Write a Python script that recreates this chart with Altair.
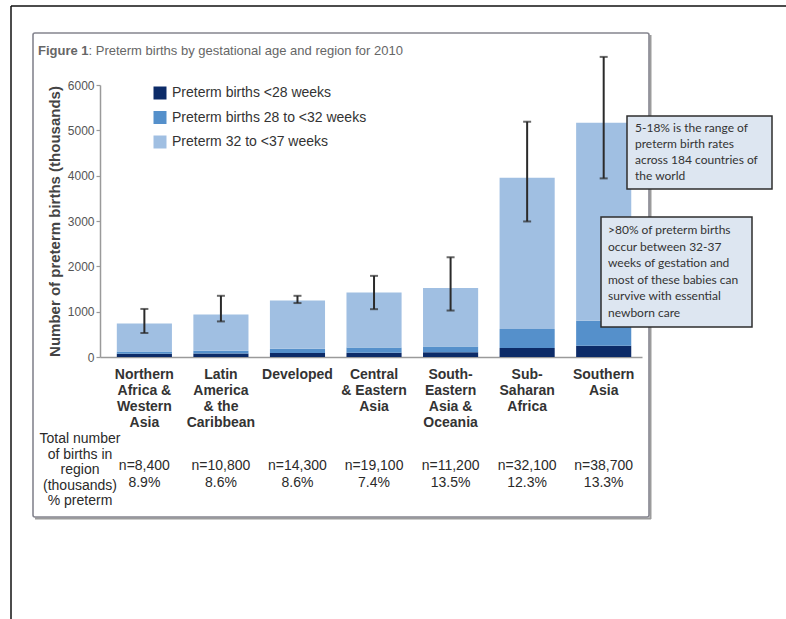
import altair as alt
import pandas as pd

# ---- data -------------------------------------------------------------
regions = [
    "Northern Africa & Western Asia",
    "Latin America & the Caribbean",
    "Developed",
    "Central & Eastern Asia",
    "South-Eastern Asia & Oceania",
    "Sub-Saharan Africa",
    "Southern Asia",
]
region_labels = [
    "Northern|Africa &|Western|Asia",
    "Latin|America|& the|Caribbean",
    "Developed",
    "Central|& Eastern|Asia",
    "South-|Eastern|Asia &|Oceania",
    "Sub-|Saharan|Africa",
    "Southern|Asia",
]
segments = [
    "Preterm births <28 weeks",
    "Preterm births 28 to <32 weeks",
    "Preterm 32 to <37 weeks",
]
seg_colors = ["#0c2b68", "#5590cb", "#a0bfe2"]

# preterm births (thousands) per gestational-age band
under_28 = [70, 75, 90, 95, 105, 200, 250]
weeks_28_32 = [50, 65, 90, 115, 125, 415, 550]
weeks_32_37 = [620, 800, 1065, 1215, 1290, 3340, 4370]

# uncertainty range of the total
err_low = [530, 785, 1190, 1055, 1025, 2990, 3940]
err_high = [1060, 1350, 1350, 1790, 2200, 5190, 6620]

births_n = ["n=8,400", "n=10,800", "n=14,300", "n=19,100", "n=11,200", "n=32,100", "n=38,700"]
pct_preterm = ["8.9%", "8.6%", "8.6%", "7.4%", "13.5%", "12.3%", "13.3%"]

y_ticks = [0, 1000, 2000, 3000, 4000, 5000, 6000]
Y_TITLE = "Number of preterm births (thousands)"

# ---- tables -----------------------------------------------------------
rows = []
for i, r in enumerate(regions):
    for k, vals in enumerate([under_28, weeks_28_32, weeks_32_37]):
        rows.append({"region": r, "segment": segments[k], "order": k, "value": vals[i]})
bar_df = pd.DataFrame(rows)

err_df = pd.DataFrame({"region": regions, "low": err_low, "high": err_high})
lab_df = pd.DataFrame({
    "region": regions,
    "label": region_labels,
    "stats": [f"{n}|{p}" for n, p in zip(births_n, pct_preterm)],
})
one = pd.DataFrame({"k": [0]})

FONT = "Liberation Sans"
BOX_FONT = "Lato"

x_enc = alt.X(
    "region:N", sort=regions,
    scale=alt.Scale(paddingInner=0.28, paddingOuter=0.18, align=0.61),
    axis=alt.Axis(labels=False, ticks=False, title=None,
                  domainColor="#9a9a9a", domainWidth=1.5),
)

# ---- frames ---------------------------------------------------------------
outer_left = alt.Chart(one).mark_rule(color="#111", strokeWidth=1.5).encode(
    x=alt.value(-89), y=alt.value(-79), y2=alt.value(534))
outer_top = alt.Chart(one).mark_rule(color="#111", strokeWidth=1.5).encode(
    x=alt.value(-89), x2=alt.value(686), y=alt.value(-79))
shadow_r = alt.Chart(one).mark_rule(color="#9c9c9c", strokeWidth=2).encode(
    x=alt.value(550.5), y=alt.value(-50), y2=alt.value(434))
shadow_b = alt.Chart(one).mark_rule(color="#9c9c9c", strokeWidth=2).encode(
    x=alt.value(-65), x2=alt.value(551), y=alt.value(433.5))
frame = alt.Chart(one).mark_rect(
    filled=False, stroke="#85858f", strokeWidth=1.6, cornerRadius=2
).encode(x=alt.value(-67), x2=alt.value(549), y=alt.value(-52), y2=alt.value(432))

# ---- title ----------------------------------------------------------------
title_bold = alt.Chart(one).mark_text(
    text="Figure 1", font=FONT, fontSize=13, fontWeight="bold", color="#666",
    align="left", baseline="middle",
).encode(x=alt.value(-62), y=alt.value(-34))
title_rest = alt.Chart(one).mark_text(
    text=": Preterm births by gestational age and region for 2010",
    font=FONT, fontSize=13, color="#666", align="left", baseline="middle",
).encode(x=alt.value(-11.5), y=alt.value(-34))

# ---- bars -------------------------------------------------------------------
bars = alt.Chart(bar_df).mark_bar().encode(
    x=x_enc,
    y=alt.Y(
        "value:Q", stack="zero", title=Y_TITLE,
        scale=alt.Scale(domain=[0, 6000], nice=False),
        axis=alt.Axis(
            values=y_ticks, format="d", grid=False,
            domainColor="#9a9a9a", domainWidth=1.5,
            tickColor="#9a9a9a", tickSize=4, tickWidth=1.2,
            labelFont=FONT, labelFontSize=12, labelColor="#555", labelPadding=2,
            titleFont=FONT, titleFontSize=15, titleFontWeight="bold",
            titleColor="#444", titleAngle=270, titleAlign="center",
            titleBaseline="middle", titleX=-46, titleY=136,
        ),
    ),
    color=alt.Color(
        "segment:N",
        scale=alt.Scale(domain=segments, range=seg_colors),
        legend=alt.Legend(
            orient="none", legendX=53, legendY=1, title=None, padding=0,
            symbolType="square", symbolSize=169, symbolStrokeWidth=0,
            labelFont=FONT, labelFontSize=14, labelColor="#333",
            labelOffset=5, rowPadding=10.5, labelLimit=400,
        ),
    ),
    order=alt.Order("order:Q", sort="ascending"),
)

# ---- error bars -------------------------------------------------------------
err_rule = alt.Chart(err_df).mark_rule(color="#2a2a2a", strokeWidth=2).encode(
    x=alt.X("region:N", sort=regions),
    y=alt.Y("low:Q", title=Y_TITLE), y2="high:Q",
)
cap_low = alt.Chart(err_df).mark_tick(color="#2a2a2a", size=8, thickness=2).encode(
    x=alt.X("region:N", sort=regions), y=alt.Y("low:Q", title=Y_TITLE))
cap_high = alt.Chart(err_df).mark_tick(color="#2a2a2a", size=8, thickness=2).encode(
    x=alt.X("region:N", sort=regions), y=alt.Y("high:Q", title=Y_TITLE))

# ---- category labels and table rows ------------------------------------
cat_text = alt.Chart(lab_df).mark_text(
    font=FONT, fontSize=14, fontWeight="bold", color="#333",
    lineBreak="|", lineHeight=16, baseline="top", align="center",
).encode(x=alt.X("region:N", sort=regions), y=alt.value(283), text="label:N")

stats_text = alt.Chart(lab_df).mark_text(
    font=FONT, fontSize=14, color="#2a2a2a",
    lineBreak="|", lineHeight=17, baseline="top", align="center",
).encode(x=alt.X("region:N", sort=regions), y=alt.value(374), text="stats:N")

row_head = alt.Chart(one).mark_text(
    text="Total number|of births in|region|(thousands)|% preterm",
    font=FONT, fontSize=14, color="#2a2a2a",
    lineBreak="|", lineHeight=15.5, baseline="top", align="center",
).encode(x=alt.value(-20), y=alt.value(347))

# ---- call-out boxes -------------------------------------------------------
box1 = alt.Chart(one).mark_rect(
    fill="#dde6f1", stroke="#2e2e2e", strokeWidth=1.5
).encode(x=alt.value(527), x2=alt.value(672), y=alt.value(31), y2=alt.value(104))
box1_text = alt.Chart(one).mark_text(
    text="5-18% is the range of|preterm birth rates|across 184 countries of|the world",
    font=BOX_FONT, fontSize=12, color="#333",
    lineBreak="|", lineHeight=16.3, baseline="top", align="left",
).encode(x=alt.value(535), y=alt.value(37.5))

box2 = alt.Chart(one).mark_rect(
    fill="#dde6f1", stroke="#2e2e2e", strokeWidth=1.5
).encode(x=alt.value(501), x2=alt.value(652), y=alt.value(132), y2=alt.value(242))
box2_text = alt.Chart(one).mark_text(
    text=">80% of preterm births|occur between 32-37|weeks of gestation and|most of these babies can|survive with essential|newborn care",
    font=BOX_FONT, fontSize=12, color="#333",
    lineBreak="|", lineHeight=16.6, baseline="top", align="left",
).encode(x=alt.value(508), y=alt.value(140))

chart = alt.layer(
    outer_left, outer_top, shadow_r, shadow_b, frame,
    title_bold, title_rest,
    bars, err_rule, cap_low, cap_high,
    cat_text, stats_text, row_head,
    box1, box1_text, box2, box2_text,
).properties(
    width=542, height=272,
    padding={"left": 100, "top": 85, "right": 144, "bottom": 262},
    autosize=alt.AutoSizeParams(type="none"),
    background="white",
).configure_view(stroke=None)

chart.save("out.html", embed_options={"renderer": "svg", "actions": False})
